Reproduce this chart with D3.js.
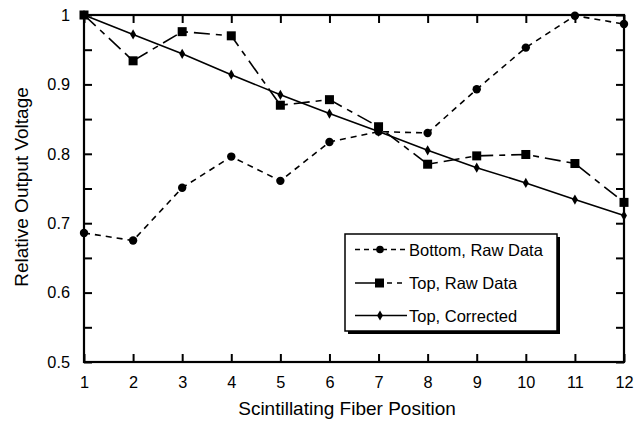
<!DOCTYPE html>
<html><head><meta charset="utf-8">
<script src="https://cdn.jsdelivr.net/npm/d3@7"></script>
<style>body{margin:0;background:#fff}svg{display:block}text{font-family:"Liberation Sans",Arial,sans-serif;fill:#000}</style>
</head><body><svg id="c" width="639" height="426"></svg>
<script>
const positions = [1,2,3,4,5,6,7,8,9,10,11,12];
const bottomRaw = [0.686,0.675,0.751,0.796,0.761,0.817,0.832,0.830,0.893,0.953,0.999,0.987];
const topRaw = [1.0,0.934,0.976,0.970,0.870,0.878,0.839,0.785,0.797,0.799,0.786,0.730];
const topCorrected = [1.0,0.972,0.944,0.914,0.885,0.858,0.832,0.805,0.780,0.758,0.734,0.711];
const yTicks = [0.5,0.55,0.6,0.65,0.7,0.75,0.8,0.85,0.9,0.95,1.0];
const seriesNames = ["Bottom, Raw Data","Top, Raw Data","Top, Corrected"];
const xTitle = "Scintillating Fiber Position";
const yTitle = "Relative Output Voltage";

const svg = d3.select("#c");
const L=84,R=624,T=15,B=362;
const x = d3.scaleLinear().domain([1,12]).range([L,R]);
const y = d3.scaleLinear().domain([0.5,1]).range([B,T]);
const fmt = v => (Math.abs(v*10-Math.round(v*10))<1e-6) ? (v===1?"1":d3.format(".1f")(v)) : "";

// axes
const gx = svg.append("g").attr("transform",`translate(0,${B})`)
  .call(d3.axisBottom(x).tickValues(positions).tickFormat(d3.format("d")).tickSizeInner(-8).tickSizeOuter(0).tickPadding(14.5));
const gy = svg.append("g").attr("transform",`translate(${L},0)`)
  .call(d3.axisLeft(y).tickValues(yTicks).tickFormat(fmt).tickSizeInner(-8).tickSizeOuter(0).tickPadding(14));
const gt = svg.append("g").attr("transform",`translate(0,${T})`)
  .call(d3.axisTop(x).tickValues(positions).tickFormat("").tickSizeInner(-8).tickSizeOuter(0));
const gr = svg.append("g").attr("transform",`translate(${R},0)`)
  .call(d3.axisRight(y).tickValues(yTicks).tickFormat("").tickSizeInner(-8).tickSizeOuter(0));
[gx,gy,gt,gr].forEach(g=>{
  g.select(".domain").remove();
  g.selectAll(".tick line").attr("stroke","#000").attr("stroke-width",2);
  g.selectAll(".tick text").attr("font-size",16.3).attr("font-family","Liberation Sans, Arial, sans-serif");
});
svg.append("rect").attr("x",L).attr("y",T).attr("width",R-L).attr("height",B-T)
  .attr("fill","none").attr("stroke","#000").attr("stroke-width",2.2);

// titles
svg.append("text").attr("x",347).attr("y",415).attr("text-anchor","middle").attr("font-size",19).text(xTitle);
svg.append("text").attr("transform","translate(28,187) rotate(-90)").attr("text-anchor","middle").attr("font-size",19).text(yTitle);

const line = d3.line().x((d,i)=>x(positions[i])).y(d=>y(d));
svg.append("path").datum(bottomRaw).attr("d",line).attr("fill","none").attr("stroke","#000").attr("stroke-width",1.6).attr("stroke-dasharray","6,5");
svg.append("path").datum(topRaw).attr("d",line).attr("fill","none").attr("stroke","#000").attr("stroke-width",1.6).attr("stroke-dasharray","16,6,6,6");
svg.append("path").datum(topCorrected).attr("d",line).attr("fill","none").attr("stroke","#000").attr("stroke-width",1.6);

const diamond = d3.symbol().type(d3.symbolDiamond).size(30);
svg.append("g").selectAll("circle").data(bottomRaw).join("circle")
  .attr("cx",(d,i)=>x(positions[i])).attr("cy",d=>y(d)).attr("r",4.2).attr("fill","#000");
svg.append("g").selectAll("rect").data(topRaw).join("rect")
  .attr("x",(d,i)=>x(positions[i])-4.5).attr("y",d=>y(d)-4.5).attr("width",9).attr("height",9).attr("fill","#000");
svg.append("g").selectAll("path").data(topCorrected).join("path")
  .attr("transform",(d,i)=>`translate(${x(positions[i])},${y(d)})`).attr("d",diamond).attr("fill","#000");

// legend
const lg = svg.append("g");
lg.append("rect").attr("x",348).attr("y",237).attr("width",212).attr("height",97).attr("fill","#000");
lg.append("rect").attr("x",345).attr("y",234).attr("width",212).attr("height",97).attr("fill","#fff").attr("stroke","#000").attr("stroke-width",1.5);
const rows=[249.5,283,315.5];
// row1
lg.append("line").attr("x1",355).attr("x2",407).attr("y1",rows[0]).attr("y2",rows[0]).attr("stroke","#000").attr("stroke-width",1.5).attr("stroke-dasharray","5,4");
lg.append("circle").attr("cx",380).attr("cy",rows[0]).attr("r",3.8).attr("fill","#000");
// row2
lg.append("line").attr("x1",355).attr("x2",379).attr("y1",rows[1]).attr("y2",rows[1]).attr("stroke","#000").attr("stroke-width",1.5);
lg.append("line").attr("x1",387).attr("x2",407).attr("y1",rows[1]).attr("y2",rows[1]).attr("stroke","#000").attr("stroke-width",1.5).attr("stroke-dasharray","5,5");
lg.append("rect").attr("x",375).attr("y",rows[1]-4.5).attr("width",9).attr("height",9).attr("fill","#000");
// row3
lg.append("line").attr("x1",355).attr("x2",407).attr("y1",rows[2]).attr("y2",rows[2]).attr("stroke","#000").attr("stroke-width",1.5);
lg.append("path").attr("transform",`translate(380,${rows[2]})`).attr("d",diamond).attr("fill","#000");
seriesNames.forEach((n,i)=>lg.append("text").attr("x",409).attr("y",rows[i]+6).attr("font-size",16.5).text(n));
</script></body></html>
